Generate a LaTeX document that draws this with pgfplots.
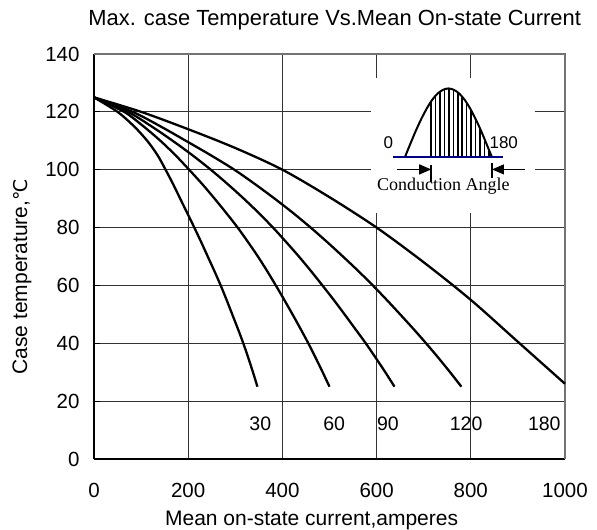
\documentclass[border=0pt]{standalone}
\usepackage{pgfplots}
\pgfplotsset{compat=1.18}
\usepackage{fontspec}
\setmainfont{Liberation Sans}
\newfontfamily\seriffont{Liberation Serif}
\newfontfamily\dejavu{DejaVu Sans}
\usetikzlibrary{arrows.meta}
\begin{document}
\begin{tikzpicture}
\begin{axis}[
  at={(0,0)}, anchor=south west,
  scale only axis, width=471bp, height=405bp,
  xmin=0, xmax=1000, ymin=0, ymax=140,
  xtick={0,200,400,600,800,1000}, ytick={0,20,40,60,80,100,120,140},
  /pgf/number format/assume math mode=true,
  /pgf/number format/1000 sep={},
  grid=major, major grid style={draw=black!80, line width=0.9bp},
  axis x line*=bottom, axis y line*=left,
  axis line style={black, line width=1.6bp, -},
  clip=false,
  tick align=inside, ytick pos=left, xtick style={draw=none},
  ytick style={black, line width=1.2bp}, major tick length=6bp,
  ticklabel style={font=\fontsize{20.5bp}{23bp}\selectfont},
  xticklabel style={anchor=center, yshift=-31bp},
  yticklabel style={anchor=east, xshift=-11bp},
  title={Max. case Temperature Vs.Mean On-state Current},
  title style={at={(0.511,1.055)}, anchor=base, font=\fontsize{21.9bp}{25bp}\selectfont},
  xlabel={Mean on-state current,amperes},
  xlabel style={at={(0.462,-0.163)}, anchor=base, font=\fontsize{21bp}{24bp}\selectfont},
  ylabel={Case temperature,{\dejavu\fontsize{19bp}{22bp}\selectfont ℃}},
  ylabel style={at={(-0.153,0.45)}, anchor=center, font=\fontsize{21bp}{24bp}\selectfont},
]
% white background of the inset
\fill[white] (589,85) rectangle (937,131.7);
% frame top and right (gray)
\draw[black!55, line width=1.6bp] (rel axis cs:0,1) -- (rel axis cs:1,1) -- (rel axis cs:1,0);

% curves (conduction angle 30, 60, 90, 120, 180)
\addplot[black, line width=2.3bp, smooth] coordinates {
 (0,125) (50,120) (85,115) (113,110) (135,105) (152,100) (168,95) (183,90) (198,85) (213,80)
 (227.5,75) (241.5,70) (255.5,65) (269,60) (281.5,55) (293.5,50) (305.5,45) (317,40)
 (327.5,35) (337.5,30) (347,25)};
\addplot[black, line width=2.3bp, smooth] coordinates {
 (0,125) (64,120) (105,115) (141,110) (173,105) (202,100) (230,95) (256,90) (281,85) (305,80)
 (327,75) (348,70) (367.5,65) (386,60) (404,55) (421.5,50) (438.5,45) (455,40)
 (470.5,35) (485.5,30) (500,25)};
\addplot[black, line width=2.3bp, smooth] coordinates {
 (0,125) (72,120) (122,115) (167,110) (209,105) (248,100) (284,95) (318,90) (350,85) (380,80)
 (408,75) (435,70) (460.5,65) (485,60) (509,55) (532,50) (554.5,45) (577,40)
 (598,35) (618.5,30) (638,25)};
\addplot[black, line width=2.3bp, smooth] coordinates {
 (0,125) (82,120) (141,115) (195,110) (248,105) (298,100) (342,95) (383.5,90) (423,85) (460,80)
 (495,75) (528.5,70) (561,65) (592,60) (621.5,55) (650,50) (678,45) (705,40)
 (731,35) (756,30) (780,25)};
\addplot[black, line width=2.3bp, smooth] coordinates {
 (0,125) (100,120) (200,114) (300,107.5) (400,100) (500,90.5) (600,80) (700,68) (800,55) (900,40.5) (1000,26)};

% curve labels
\node[anchor=base, font=\fontsize{19.5bp}{22bp}\selectfont] at (353,10) {30};
\node[anchor=base, font=\fontsize{19.5bp}{22bp}\selectfont] at (510,10) {60};
\node[anchor=base, font=\fontsize{19.5bp}{22bp}\selectfont] at (624,10) {90};
\node[anchor=base, font=\fontsize{19.5bp}{22bp}\selectfont] at (790,10) {120};
\node[anchor=base, font=\fontsize{19.5bp}{22bp}\selectfont] at (956,10) {180};

% inset: conduction angle sketch
\begin{scope}
\clip plot[smooth] coordinates {(660,104.3) (671.6,108.94) (683.1,113.4) (694.7,117.5) (706.3,121.1) (717.8,124.1) (729.4,126.3) (740.9,127.6) (752.5,128.1) (764.1,127.6) (775.6,126.3) (787.2,124.1) (798.8,121.1) (810.3,117.5) (821.9,113.4) (833.4,108.9) (845,104.3)} -- cycle;
\draw[black, line width=1.5bp] (716,104) -- (716,130) (725.4,104) -- (725.4,130) (734.8,104) -- (734.8,130) (744.2,104) -- (744.2,130) (753.6,104) -- (753.6,130) (763,104) -- (763,130) (772.4,104) -- (772.4,130) (781.8,104) -- (781.8,130) (791.2,104) -- (791.2,130) (800.6,104) -- (800.6,130) (810,104) -- (810,130) (819.4,104) -- (819.4,130) (828.8,104) -- (828.8,130) (838.2,104) -- (838.2,130);
\end{scope}
\draw[black, line width=2bp] plot[smooth] coordinates {(660,104.3) (671.6,108.94) (683.1,113.4) (694.7,117.5) (706.3,121.1) (717.8,124.1) (729.4,126.3) (740.9,127.6) (752.5,128.1) (764.1,127.6) (775.6,126.3) (787.2,124.1) (798.8,121.1) (810.3,117.5) (821.9,113.4) (833.4,108.9) (845,104.3)};
\draw[blue!50!black, line width=2bp] (635,104.3) -- (868,104.3);
\node[anchor=base, font=\fontsize{17bp}{20bp}\selectfont] at (625,107.2) {0};
\node[anchor=base, font=\fontsize{17bp}{20bp}\selectfont] at (870,107.2) {180};
\draw[black, line width=1.2bp, -{Triangle[length=12bp,width=10bp]}] (643,100.1) -- (716,100.1);
\draw[black, line width=1.8bp] (716,95.9) -- (716,101.8);
\draw[black, line width=1.2bp, -{Triangle[length=12bp,width=10bp]}] (915,100.1) -- (845,100.1);
\draw[black, line width=1.8bp] (845,97.1) -- (845,102.3);
\node[anchor=base, font=\seriffont\fontsize{18bp}{21bp}\selectfont] at (742,92.7) {Conduction Angle};
\end{axis}
\pgfresetboundingbox
\path[use as bounding box] (-94bp,-71bp) rectangle (503bp,459bp);
\end{tikzpicture}
\end{document}
